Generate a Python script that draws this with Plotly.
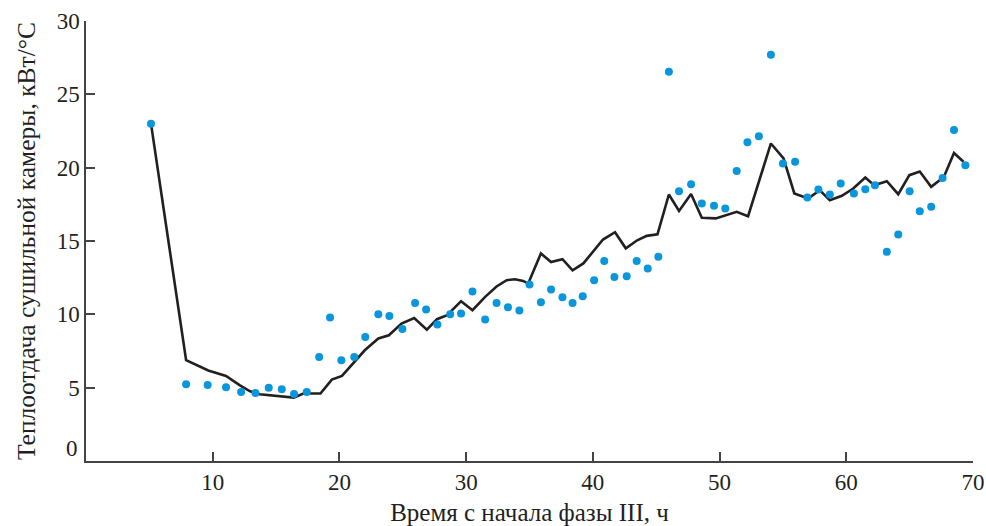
import plotly.graph_objects as go

# Measured points (time, h ; heat transfer, kW/°C)
pt_x = [5.13, 7.9, 9.6, 11.05, 12.24, 13.37, 14.42, 15.45, 16.42, 17.42, 18.4, 19.26, 20.15, 21.17,
        22.04, 23.07, 23.94, 24.97, 25.97, 26.84, 27.73, 28.74, 29.6, 30.5, 31.5, 32.4, 33.3, 34.2,
        35.0, 35.9, 36.7, 37.6, 38.4, 39.2, 40.1, 40.9, 41.7, 42.67, 43.46, 44.33, 45.17, 46.0,
        46.8, 47.75, 48.6, 49.56, 50.45, 51.35, 52.2, 53.1, 54.05, 55.0, 55.96, 56.93, 57.8, 58.7,
        59.56, 60.6, 61.5, 62.26, 63.2, 64.1, 65.0, 65.8, 66.7, 67.6, 68.5, 69.4]
pt_y = [23.0, 5.23, 5.19, 5.03, 4.71, 4.64, 5.0, 4.89, 4.57, 4.71, 7.09, 9.78, 6.87, 7.09,
        8.46, 10.0, 9.89, 9.0, 10.78, 10.33, 9.3, 10.0, 10.05, 11.55, 9.64, 10.78, 10.48, 10.26,
        12.03, 10.83, 11.69, 11.17, 10.78, 11.23, 12.33, 13.64, 12.55, 12.6, 13.64, 13.12, 13.92, 26.54,
        18.4, 18.87, 17.56, 17.4, 17.22, 19.78, 21.74, 22.15, 27.7, 20.29, 20.4, 17.97, 18.51, 18.17,
        18.92, 18.24, 18.53, 18.8, 14.26, 15.44, 18.4, 17.03, 17.33, 19.3, 22.56, 20.17]

# Model curve
ln_x = [5.13, 7.9, 9.65, 11.05, 12.15, 12.95, 13.7, 16.4, 17.15, 18.5, 19.4, 20.2, 22.0, 23.07,
        23.9, 24.9, 25.9, 26.9, 27.7, 28.5, 29.6, 30.5, 31.5, 32.4, 33.2, 33.85, 34.5, 34.9,
        35.9, 36.7, 37.6, 38.4, 39.25, 40.8, 41.75, 42.6, 43.5, 44.25, 45.1, 46.0, 46.8, 47.75,
        48.6, 49.7, 51.35, 52.25, 54.05, 55.05, 55.9, 57.0, 57.9, 58.7, 59.65, 60.55, 61.5, 62.2,
        63.2, 64.1, 64.98, 65.8, 66.7, 67.7, 68.5, 69.25]
ln_y = [23.0, 6.87, 6.17, 5.8, 5.16, 4.75, 4.55, 4.32, 4.6, 4.6, 5.55, 5.8, 7.55, 8.35,
        8.57, 9.37, 9.75, 8.96, 9.67, 9.94, 10.9, 10.28, 11.19, 11.9, 12.33, 12.39, 12.28, 12.1,
        14.15, 13.57, 13.76, 13.0, 13.47, 15.1, 15.6, 14.5, 15.05, 15.35, 15.45, 18.17, 17.05, 18.2,
        16.58, 16.54, 16.99, 16.69, 21.65, 20.63, 18.24, 17.9, 18.47, 17.78, 18.08, 18.58, 19.33, 18.8,
        19.08, 18.19, 19.49, 19.74, 18.69, 19.37, 21.0, 20.4]

x_ticks = [10, 20, 30, 40, 50, 60, 70]
y_ticks = [5, 10, 15, 20, 25, 30]

FONT = "'Liberation Serif', 'Times New Roman', Times, serif"
AX = "#444444"
TXT = "#231f20"

fig = go.Figure()
fig.add_trace(go.Scatter(x=ln_x, y=ln_y, mode="lines",
                         line=dict(color="#231f20", width=2.6), hoverinfo="skip"))
fig.add_trace(go.Scatter(x=pt_x, y=pt_y, mode="markers",
                         marker=dict(color="#0a96dc", size=8, line=dict(width=0))))

fig.update_layout(
    width=986, height=526,
    margin=dict(l=86, r=13, t=21, b=65),
    plot_bgcolor="white", paper_bgcolor="white",
    showlegend=False,
    font=dict(family=FONT, size=23, color=TXT),
    xaxis=dict(range=[0, 70], tickvals=x_ticks, ticks="inside", ticklen=9, tickwidth=1.5,
               tickcolor=AX, showline=True, linecolor=AX, linewidth=1.5, showgrid=False,
               zeroline=False, automargin=False, tickfont=dict(family=FONT, size=23, color=TXT),
               title=dict(text="Время с начала фазы III, ч",
                          font=dict(family=FONT, size=25, color=TXT), standoff=14)),
    yaxis=dict(range=[0, 30], tickvals=y_ticks, ticks="inside", ticklen=9, tickwidth=1.5,
               tickcolor=AX, showline=True, linecolor=AX, linewidth=1.5, showgrid=False,
               zeroline=False, automargin=False, tickfont=dict(family=FONT, size=23, color=TXT),
               title=dict(text="Теплоотдача сушильной камеры, кВт/°C",
                          font=dict(family=FONT, size=25.5, color=TXT), standoff=14)),
)
fig.add_annotation(text="0", xref="paper", x=0, y=0, yref="y", xanchor="right",
                   yanchor="middle", xshift=-6, yshift=13, showarrow=False,
                   font=dict(family=FONT, size=23, color=TXT))

fig.write_html("out.html")
